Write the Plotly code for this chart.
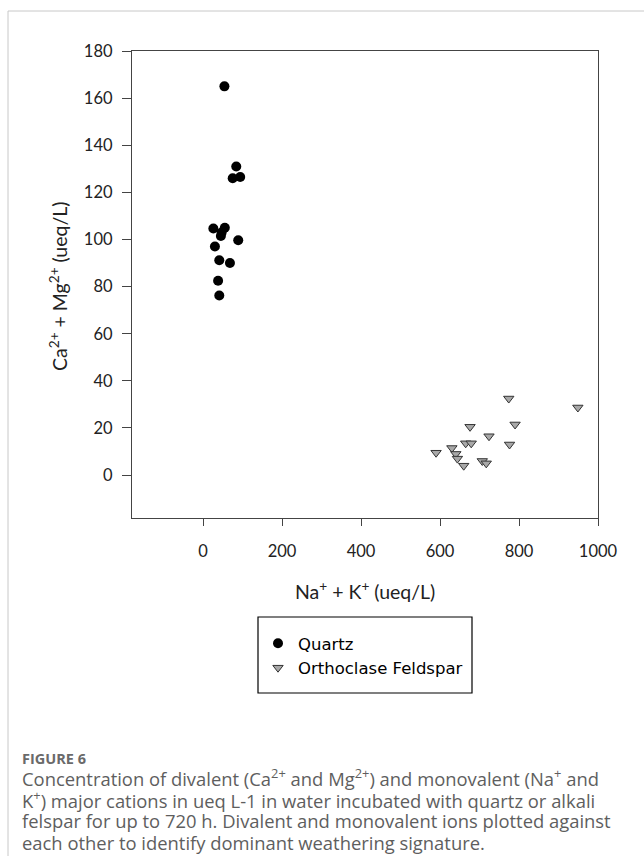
import plotly.graph_objects as go

# Quartz incubations: monovalent vs divalent cations (ueq/L)
quartz_na_k = [54, 84, 75, 94, 26, 55, 45, 47, 30, 89, 41, 68, 38, 41]
quartz_ca_mg = [165, 131, 126, 126.5, 104.7, 105, 101.5, 103, 97, 99.7, 91.2, 90, 82.5, 76.2]

# Orthoclase feldspar incubations
feldspar_na_k = [590, 630, 640, 644, 660, 665, 679, 676, 724, 707, 717, 774, 790, 776, 949]
feldspar_ca_mg = [9.5, 11.5, 9, 7, 4, 13.5, 13.5, 20.5, 16.5, 6, 5, 32.5, 21.5, 13, 28.7]

x_ticks = [0, 200, 400, 600, 800, 1000]
y_ticks = [0, 20, 40, 60, 80, 100, 120, 140, 160, 180]

W, H = 644, 856
L, R, T, B = 132, 598, 51, 518  # plot area in pixels


def px(x):
    return (x - L) / (R - L)


def py(y):
    return (B - y) / (B - T)


fig = go.Figure()
fig.add_trace(go.Scatter(
    x=quartz_na_k, y=quartz_ca_mg, mode="markers", name="Quartz",
    marker=dict(symbol="circle", size=10, color="black"),
))
fig.add_trace(go.Scatter(
    x=feldspar_na_k, y=feldspar_ca_mg, mode="markers", name="Orthoclase Feldspar",
    marker=dict(symbol="triangle-down", size=9, color="#a8a8a8",
                line=dict(color="#333333", width=1)),
))

axis_common = dict(
    showline=True, linecolor="#444444", linewidth=1.3, mirror=True,
    showgrid=False, zeroline=False, ticks="outside", tickcolor="#444444",
    tickwidth=1.3, tickfont=dict(family="Lato, sans-serif", size=16.5, color="#222222"),
)

fig.update_xaxes(range=[-180, 1000], tickvals=x_ticks, ticklen=7,
                 ticklabelstandoff=11, **axis_common)
fig.update_yaxes(range=[-18.2, 180], tickvals=y_ticks, ticklen=9,
                 ticklabelstandoff=6, **axis_common)

annotations = [
    dict(text="Na<sup>+</sup> + K<sup>+</sup> (ueq/L)", x=px(365), y=py(590),
         xanchor="center", yanchor="middle",
         font=dict(family="Lato, sans-serif", size=19.5, color="#222222")),
    dict(text="Ca<sup>2+</sup> + Mg<sup>2+</sup> (ueq/L)", x=px(58), y=py(287),
         xanchor="center", yanchor="middle", textangle=-90,
         font=dict(family="Lato, sans-serif", size=19.5, color="#222222")),
    dict(text="<b>FIGURE 6</b>", x=px(20), y=py(758), xanchor="left", yanchor="middle",
         font=dict(family="Open Sans, sans-serif", size=14.5, color="#6a6a6a")),
]
caption = [
    "Concentration of divalent (Ca<sup>2+</sup> and Mg<sup>2+</sup>) and monovalent (Na<sup>+</sup> and",
    "K<sup>+</sup>) major cations in ueq L-1 in water incubated with quartz or alkali",
    "felspar for up to 720 h. Divalent and monovalent ions plotted against",
    "each other to identify dominant weathering signature.",
]
for i, line in enumerate(caption):
    annotations.append(dict(
        text=line, x=px(20), y=py(777.5 + i * 21.5), xanchor="left", yanchor="middle",
        font=dict(family="Open Sans, sans-serif", size=18.4, color="#5e5e5e"),
    ))
for a in annotations:
    a.update(xref="paper", yref="paper", showarrow=False)

fig.update_layout(
    width=W, height=H,
    margin=dict(l=L, r=W - R, t=T, b=H - B),
    paper_bgcolor="white", plot_bgcolor="white",
    showlegend=True,
    legend=dict(
        x=px(258), y=py(626), xanchor="left", yanchor="top",
        borderwidth=0, bgcolor="rgba(0,0,0,0)",
        font=dict(family="DejaVu Sans, sans-serif", size=16.5, color="black"),
        tracegroupgap=0, itemwidth=30,
    ),
    annotations=annotations,
    shapes=[
        dict(type="rect", xref="paper", yref="paper",
             x0=px(8), x1=px(700), y0=py(11), y1=py(900),
             line=dict(color="#c8c8c8", width=1), layer="below"),
        dict(type="rect", xref="paper", yref="paper",
             x0=px(258), x1=px(472), y0=py(617), y1=py(693),
             line=dict(color="black", width=1.2), layer="below"),
    ],
)

fig.write_html("out.html")
